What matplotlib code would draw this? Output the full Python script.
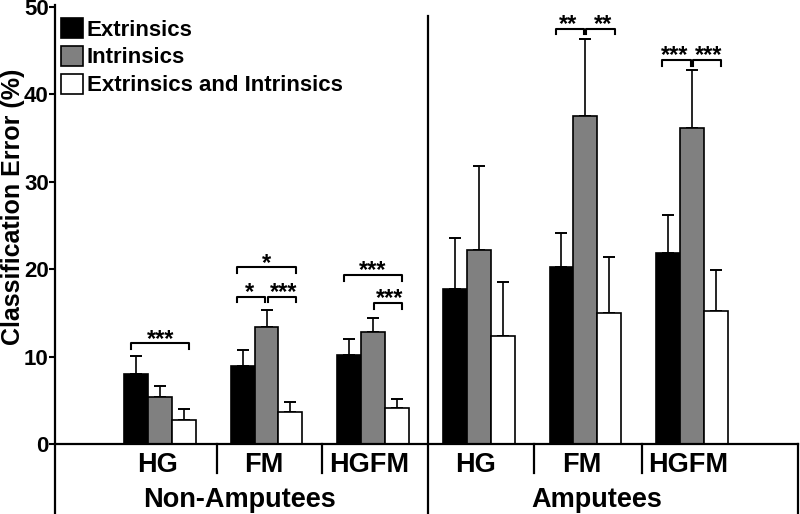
import numpy as np
import matplotlib
matplotlib.use("Agg")
import matplotlib.pyplot as plt

plt.rcParams['font.family'] = ['Liberation Sans', 'DejaVu Sans']
plt.rcParams['font.weight'] = 'bold'

groups = ["HG", "FM", "HGFM", "HG", "FM", "HGFM"]
populations = ["Non-Amputees", "Amputees"]
series = ["Extrinsics", "Intrinsics", "Extrinsics and Intrinsics"]

extrinsics = [8.0, 8.9, 10.2, 17.7, 20.2, 21.9]
extrinsics_err = [2.1, 1.8, 1.8, 5.9, 3.9, 4.3]
intrinsics = [5.4, 13.4, 12.8, 22.2, 37.5, 36.1]
intrinsics_err = [1.2, 1.9, 1.6, 9.6, 8.8, 6.7]
combined = [2.8, 3.7, 4.1, 12.3, 15.0, 15.2]
combined_err = [1.2, 1.1, 1.1, 6.2, 6.4, 4.7]

# (group, left bar, right bar, height, label)
sig = [
    (0, 0, 2, 11.5, "***"),
    (1, 0, 2, 20.2, "*"),
    (1, 0, 1, 16.8, "*"),
    (1, 1, 2, 16.8, "***"),
    (2, 0, 2, 19.3, "***"),
    (2, 1, 2, 16.1, "***"),
    (4, 0, 1, 47.5, "**"),
    (4, 1, 2, 47.5, "**"),
    (5, 0, 1, 43.9, "***"),
    (5, 1, 2, 43.9, "***"),
]

colors = ["black", "#808080", "white"]
values = [extrinsics, intrinsics, combined]
errs = [extrinsics_err, intrinsics_err, combined_err]

fig = plt.figure(figsize=(8, 5.14), dpi=100)
ax = fig.add_axes([55 / 800, 70 / 514, 743 / 800, 437 / 514])

x = np.arange(len(groups))
w = 0.225
offs = [-w, 0, w]
bars = []
for k in range(3):
    b = ax.bar(x + offs[k], values[k], w, color=colors[k], edgecolor="black",
               linewidth=1.2, label=series[k], zorder=2)
    bars.append(b)
    ax.errorbar(x + offs[k], values[k], yerr=[np.zeros(len(x)), errs[k]],
                fmt="none", ecolor="black", elinewidth=1.2, capsize=4,
                capthick=1.4, zorder=1)

for g, a, b, h, lab in sig:
    # outer ends reach a little past the bar centre, inner ends stop at the middle bar
    x0 = g + offs[a] - (0.05 if a == 0 else -0.01)
    x1 = g + offs[b] + (0.05 if b == 2 else -0.01)
    ax.plot([x0, x0, x1, x1], [h - 0.6, h, h, h - 0.6], color="black", lw=1.5)
    nudge = 0.0 if (a, b) == (0, 2) else (-0.02 if b == 1 else 0.02)
    ax.text((x0 + x1) / 2 + nudge, h - 0.25, lab, ha="center", va="baseline",
            fontsize=17, fontweight="bold")

ax.set_xlim(-0.99, 6.0)
ax.set_ylim(0, 50)
ax.set_yticks([0, 10, 20, 30, 40, 50])
ax.set_xticks([])
ax.tick_params(axis="y", direction="out", length=4, width=1.5, labelsize=16, pad=0.5)
for t in ax.get_yticklabels():
    t.set_fontweight("bold")
for s in ["top", "right", "left"]:
    ax.spines[s].set_visible(False)
ax.spines["bottom"].set_linewidth(1.6)

bottom = -0.16
kw = dict(transform=ax.transAxes, clip_on=False, color="black")
ax.plot([0, 0], [bottom, 1.005], lw=1.6, **kw)
ax.plot([1, 1], [bottom, 0], lw=1.6, **kw)

xt = ax.get_xaxis_transform()
ax.plot([2.52, 2.52], [bottom, 0.98], lw=1.6, color="black", transform=xt, clip_on=False)
for sx in [0.53, 1.52, 3.52, 4.53]:
    ax.plot([sx, sx], [0, -0.066], lw=1.6, color="black", transform=xt, clip_on=False)

for i, g in enumerate(groups):
    ax.text(i - 0.03, -0.064, g, transform=xt, ha="center", va="baseline", fontsize=19.5,
            fontweight="bold")
ax.text(0.75, -0.144, populations[0], transform=xt, ha="center", va="baseline",
        fontsize=19.5, fontweight="bold")
ax.text(4.11, -0.144, populations[1], transform=xt, ha="center", va="baseline",
        fontsize=19.5, fontweight="bold")

ax.set_ylabel("Classification Error (%)", fontsize=18, fontweight="bold")
ax.yaxis.set_label_coords(-0.057, 0.542)
ax.yaxis.label.set_va("center")

ax.legend(handles=bars, loc="upper left", bbox_to_anchor=(6 / 743, 1 - 11 / 437),
          frameon=False, handlelength=1.0, handleheight=1.0, handletextpad=0.15,
          labelspacing=0.24, borderaxespad=0, borderpad=0,
          prop={"weight": "bold", "size": 16})

fig.savefig("out.png", dpi=100)
